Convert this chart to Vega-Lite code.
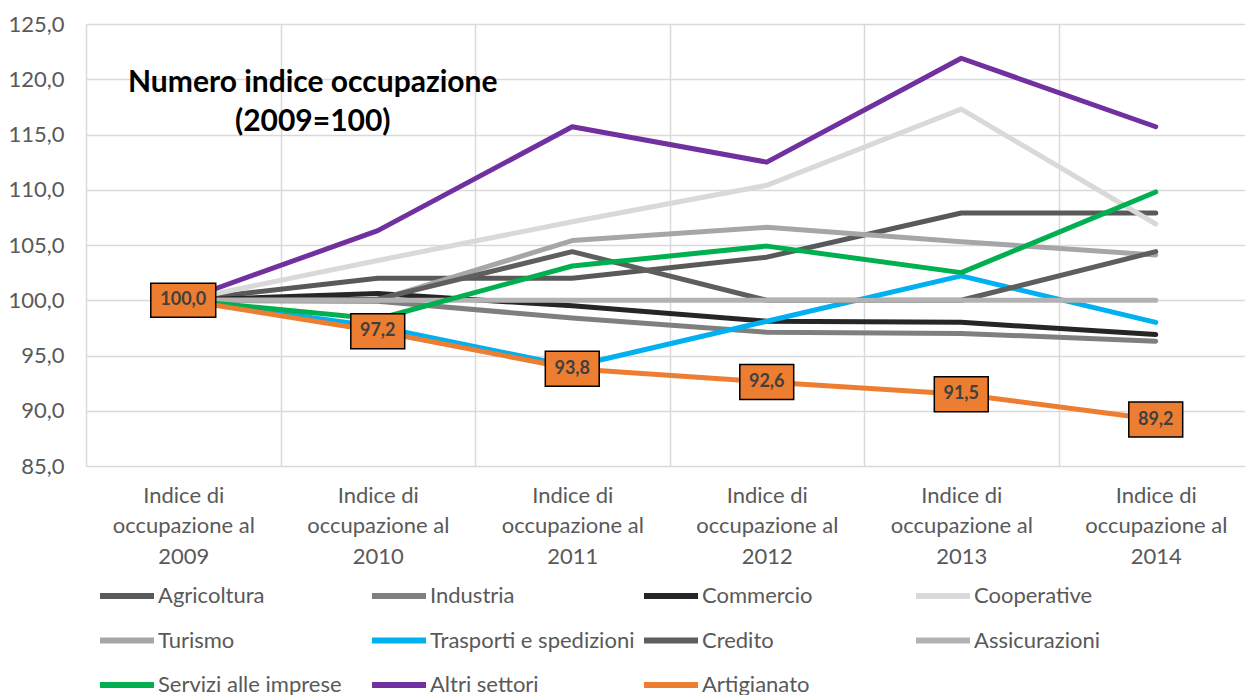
{
  "$schema": "https://vega.github.io/schema/vega-lite/v6.json",
  "width": 1167,
  "height": 442,
  "autosize": {"type": "none"},
  "padding": {"left": 86, "top": 24, "right": -8, "bottom": 229},
  "background": "white",
  "config": {
    "font": "Lato",
    "view": {"stroke": null},
    "locale": {"number": {"decimal": ",", "thousands": ".", "grouping": [3], "currency": ["", " €"]}}
  },
  "data": {"values": [
    {"sector": "Agricoltura", "anno": "2009", "v": 100},
    {"sector": "Agricoltura", "anno": "2010", "v": 102.0},
    {"sector": "Agricoltura", "anno": "2011", "v": 102.0},
    {"sector": "Agricoltura", "anno": "2012", "v": 103.9},
    {"sector": "Agricoltura", "anno": "2013", "v": 107.9},
    {"sector": "Agricoltura", "anno": "2014", "v": 107.9},
    {"sector": "Industria", "anno": "2009", "v": 100},
    {"sector": "Industria", "anno": "2010", "v": 99.9},
    {"sector": "Industria", "anno": "2011", "v": 98.4},
    {"sector": "Industria", "anno": "2012", "v": 97.1},
    {"sector": "Industria", "anno": "2013", "v": 97.0},
    {"sector": "Industria", "anno": "2014", "v": 96.3},
    {"sector": "Commercio", "anno": "2009", "v": 100},
    {"sector": "Commercio", "anno": "2010", "v": 100.6},
    {"sector": "Commercio", "anno": "2011", "v": 99.5},
    {"sector": "Commercio", "anno": "2012", "v": 98.1},
    {"sector": "Commercio", "anno": "2013", "v": 98.0},
    {"sector": "Commercio", "anno": "2014", "v": 96.9},
    {"sector": "Cooperative", "anno": "2009", "v": 100},
    {"sector": "Cooperative", "anno": "2010", "v": 103.6},
    {"sector": "Cooperative", "anno": "2011", "v": 107.1},
    {"sector": "Cooperative", "anno": "2012", "v": 110.4},
    {"sector": "Cooperative", "anno": "2013", "v": 117.3},
    {"sector": "Cooperative", "anno": "2014", "v": 106.9},
    {"sector": "Turismo", "anno": "2009", "v": 100},
    {"sector": "Turismo", "anno": "2010", "v": 100.0},
    {"sector": "Turismo", "anno": "2011", "v": 105.4},
    {"sector": "Turismo", "anno": "2012", "v": 106.6},
    {"sector": "Turismo", "anno": "2013", "v": 105.3},
    {"sector": "Turismo", "anno": "2014", "v": 104.1},
    {"sector": "Trasporti e spedizioni", "anno": "2009", "v": 100},
    {"sector": "Trasporti e spedizioni", "anno": "2010", "v": 97.6},
    {"sector": "Trasporti e spedizioni", "anno": "2011", "v": 94.0},
    {"sector": "Trasporti e spedizioni", "anno": "2012", "v": 98.1},
    {"sector": "Trasporti e spedizioni", "anno": "2013", "v": 102.2},
    {"sector": "Trasporti e spedizioni", "anno": "2014", "v": 98.0},
    {"sector": "Credito", "anno": "2009", "v": 100},
    {"sector": "Credito", "anno": "2010", "v": 100.1},
    {"sector": "Credito", "anno": "2011", "v": 104.4},
    {"sector": "Credito", "anno": "2012", "v": 100.0},
    {"sector": "Credito", "anno": "2013", "v": 100.0},
    {"sector": "Credito", "anno": "2014", "v": 104.4},
    {"sector": "Assicurazioni", "anno": "2009", "v": 100},
    {"sector": "Assicurazioni", "anno": "2010", "v": 100},
    {"sector": "Assicurazioni", "anno": "2011", "v": 100},
    {"sector": "Assicurazioni", "anno": "2012", "v": 100},
    {"sector": "Assicurazioni", "anno": "2013", "v": 100},
    {"sector": "Assicurazioni", "anno": "2014", "v": 100},
    {"sector": "Servizi alle imprese", "anno": "2009", "v": 100},
    {"sector": "Servizi alle imprese", "anno": "2010", "v": 98.3},
    {"sector": "Servizi alle imprese", "anno": "2011", "v": 103.1},
    {"sector": "Servizi alle imprese", "anno": "2012", "v": 104.9},
    {"sector": "Servizi alle imprese", "anno": "2013", "v": 102.5},
    {"sector": "Servizi alle imprese", "anno": "2014", "v": 109.8},
    {"sector": "Altri settori", "anno": "2009", "v": 100},
    {"sector": "Altri settori", "anno": "2010", "v": 106.3},
    {"sector": "Altri settori", "anno": "2011", "v": 115.7},
    {"sector": "Altri settori", "anno": "2012", "v": 112.5},
    {"sector": "Altri settori", "anno": "2013", "v": 121.9},
    {"sector": "Altri settori", "anno": "2014", "v": 115.7},
    {"sector": "Artigianato", "anno": "2009", "v": 100.0},
    {"sector": "Artigianato", "anno": "2010", "v": 97.2},
    {"sector": "Artigianato", "anno": "2011", "v": 93.8},
    {"sector": "Artigianato", "anno": "2012", "v": 92.6},
    {"sector": "Artigianato", "anno": "2013", "v": 91.5},
    {"sector": "Artigianato", "anno": "2014", "v": 89.2}
  ]},
  "layer": [
    {
      "mark": {"type": "line", "strokeWidth": 5, "strokeCap": "round", "strokeJoin": "round"},
      "encoding": {
        "x": {
          "field": "anno", "type": "ordinal",
          "scale": {"type": "band", "paddingInner": 0, "paddingOuter": 0},
          "axis": {
            "title": null, "domain": false, "ticks": false, "grid": true, "tickBand": "extent",
            "gridColor": "#d9d9d9", "gridWidth": 1.5,
            "labelAngle": 0, "labelFontSize": 22, "labelColor": "#595959", "labelLineHeight": 30.5,
            "labelPadding": 19, "labelExpr": "datum.label ? ['Indice di', 'occupazione al', datum.label] : ''"
          }
        },
        "y": {
          "field": "v", "type": "quantitative",
          "scale": {"domain": [85, 125], "nice": false, "zero": false},
          "axis": {
            "title": null, "domain": false, "ticks": false, "grid": true,
            "gridColor": "#d9d9d9", "gridWidth": 1.5, "values": [85, 90, 95, 100, 105, 110, 115, 120, 125],
            "format": ".1f", "labelFontSize": 22, "labelColor": "#595959", "labelPadding": 22
          }
        },
        "color": {
          "field": "sector", "type": "nominal",
          "scale": {
            "domain": ["Agricoltura", "Industria", "Commercio", "Cooperative", "Turismo", "Trasporti e spedizioni", "Credito", "Assicurazioni", "Servizi alle imprese", "Altri settori", "Artigianato"],
            "range": ["#595959", "#7f7f7f", "#262626", "#d9d9d9", "#a6a6a6", "#00b0f0", "#5e5e5e", "#b2b2b2", "#00b050", "#7030a0", "#ed7d31"]
          },
          "legend": {
            "title": null, "orient": "none", "legendX": 11, "legendY": 542,
            "direction": "horizontal", "columns": 4, "gridAlign": "all",
            "columnPadding": -3, "rowPadding": 2.5, "padding": 0,
            "symbolType": "stroke", "symbolSize": 2916, "symbolStrokeWidth": 6,
            "labelFontSize": 22, "labelColor": "#595959", "labelOffset": 1, "labelLimit": 400
          }
        }
      }
    },
    {
      "transform": [{"filter": "datum.sector === 'Artigianato' && datum.v >= 100"}],
      "mark": {"type": "point", "shape": "M-1.91,-1H1.91V1H-1.91Z", "size": 1156, "filled": true, "fill": "#ed7d31", "stroke": "#000000", "strokeWidth": 1.5, "opacity": 1},
      "encoding": {
        "x": {"field": "anno", "type": "ordinal", "title": null},
        "y": {"field": "v", "type": "quantitative", "title": null}
      }
    },
    {
      "transform": [{"filter": "datum.sector === 'Artigianato' && datum.v < 100"}],
      "mark": {"type": "point", "shape": "M-1.54,-1H1.54V1H-1.54Z", "size": 1225, "filled": true, "fill": "#ed7d31", "stroke": "#000000", "strokeWidth": 1.5, "opacity": 1},
      "encoding": {
        "x": {"field": "anno", "type": "ordinal", "title": null},
        "y": {"field": "v", "type": "quantitative", "title": null}
      }
    },
    {
      "transform": [{"filter": "datum.sector === 'Artigianato'"}],
      "mark": {"type": "text", "fontSize": 18, "fontWeight": "bold", "color": "#404040", "align": "center", "baseline": "middle"},
      "encoding": {
        "x": {"field": "anno", "type": "ordinal", "title": null},
        "y": {"field": "v", "type": "quantitative", "title": null},
        "text": {"field": "v", "type": "quantitative", "format": ".1f"}
      }
    },
    {
      "data": {"values": [{}]},
      "mark": {"type": "text", "fontSize": 30, "fontWeight": "bold", "color": "#000000", "align": "center", "baseline": "middle", "lineHeight": 39, "dx": -65},
      "encoding": {
        "x": {"datum": "2010", "type": "ordinal", "title": null},
        "y": {"datum": 119.7, "type": "quantitative", "title": null},
        "text": {"value": ["Numero indice occupazione", "(2009=100)"]}
      }
    }
  ]
}
